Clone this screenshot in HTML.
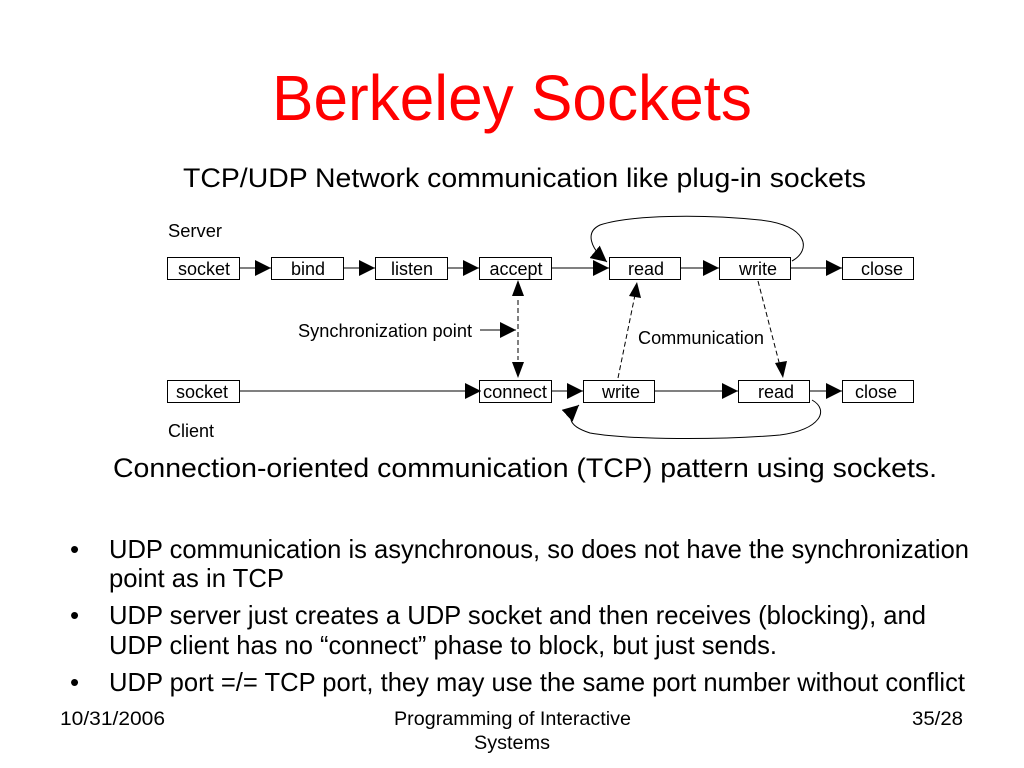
<!DOCTYPE html>
<html><head><meta charset="utf-8"><style>
html,body{margin:0;padding:0;background:#fff;}
svg{display:block;font-family:"Liberation Sans",Arial,Helvetica,sans-serif;}
</style></head><body>
<svg width="1024" height="768" viewBox="0 0 1024 768">
<defs>
<marker id="a" viewBox="0 0 10 10" refX="10" refY="5" markerWidth="16" markerHeight="16" markerUnits="userSpaceOnUse" orient="auto"><path d="M0,0 L10,5 L0,10 z" fill="#000"/></marker>
</defs>
<text x="272" y="120" font-size="64" fill="#ff0000" textLength="480" lengthAdjust="spacingAndGlyphs">Berkeley Sockets</text>
<text x="183" y="187" font-size="27" textLength="683" lengthAdjust="spacingAndGlyphs">TCP/UDP Network communication like plug-in sockets</text>

<g font-size="18">
<text x="168" y="237" textLength="54" lengthAdjust="spacingAndGlyphs">Server</text>
<text x="168" y="437" textLength="46" lengthAdjust="spacingAndGlyphs">Client</text>
<g fill="#fff" stroke="#000" stroke-width="1">
<rect x="167.5" y="257.5" width="72" height="22"/>
<rect x="271.5" y="257.5" width="72" height="22"/>
<rect x="375.5" y="257.5" width="72" height="22"/>
<rect x="479.5" y="257.5" width="72" height="22"/>
<rect x="609.5" y="257.5" width="71" height="22"/>
<rect x="719.5" y="257.5" width="71" height="22"/>
<rect x="842.5" y="257.5" width="71" height="22"/>
<rect x="167.5" y="380.5" width="72" height="22"/>
<rect x="479.5" y="380.5" width="72" height="22"/>
<rect x="583.5" y="380.5" width="71" height="22"/>
<rect x="738.5" y="380.5" width="71" height="22"/>
<rect x="842.5" y="380.5" width="71" height="22"/>
</g>
<g text-anchor="middle">
<text x="204" y="275">socket</text>
<text x="308" y="275">bind</text>
<text x="412" y="275">listen</text>
<text x="516" y="275">accept</text>
<text x="646" y="275">read</text>
<text x="758" y="275">write</text>
<text x="882" y="275">close</text>
<text x="202" y="398">socket</text>
<text x="515" y="398" textLength="64" lengthAdjust="spacingAndGlyphs">connect</text>
<text x="621" y="398">write</text>
<text x="776" y="398">read</text>
<text x="876" y="398">close</text>
</g>
<text x="298" y="337" textLength="174" lengthAdjust="spacingAndGlyphs">Synchronization point</text>
<text x="638" y="344" textLength="126" lengthAdjust="spacingAndGlyphs">Communication</text>
</g>

<g stroke="#000" stroke-width="1" fill="none">
<line x1="240" y1="268" x2="271" y2="268" marker-end="url(#a)"/>
<line x1="344" y1="268" x2="375" y2="268" marker-end="url(#a)"/>
<line x1="448" y1="268" x2="479" y2="268" marker-end="url(#a)"/>
<line x1="552" y1="268" x2="609" y2="268" marker-end="url(#a)"/>
<line x1="681" y1="268" x2="719" y2="268" marker-end="url(#a)"/>
<line x1="791" y1="268" x2="842" y2="268" marker-end="url(#a)"/>
<line x1="240" y1="391" x2="481" y2="391" marker-end="url(#a)"/>
<line x1="552" y1="391" x2="583" y2="391" marker-end="url(#a)"/>
<line x1="655" y1="391" x2="738" y2="391" marker-end="url(#a)"/>
<line x1="810" y1="391" x2="842" y2="391" marker-end="url(#a)"/>
<line x1="480" y1="330" x2="516" y2="330" marker-end="url(#a)"/>
<g stroke-dasharray="5,3">
<line x1="518" y1="300" x2="518" y2="360"/>
<line x1="618" y1="378" x2="636" y2="290"/>
<line x1="758" y1="281" x2="780" y2="366"/>
</g>
<path d="M792,261 C812,250 808,225 760,220 C700,214 630,215 600,225 C585,232 590,248 607,262" marker-end="url(#a)"/>
<path d="M812,400 C830,410 820,430 780,435 C720,440 630,440 590,433 C565,425 568,415 579,405" marker-end="url(#a)"/>
</g>
<g fill="#000">
<path d="M518,280 L512,296 L524,296 z"/>
<path d="M518,378 L512,362 L524,362 z"/>
<path d="M637,282 L629,296 L641,298 z"/>
<path d="M783,378 L775,363 L787,361 z"/>
</g>

<text x="113" y="477" font-size="27" textLength="824" lengthAdjust="spacingAndGlyphs">Connection-oriented communication (TCP) pattern using sockets.</text>

<g font-size="26">
<text x="70" y="558">•</text>
<text x="109" y="558" textLength="860" lengthAdjust="spacingAndGlyphs">UDP communication is asynchronous, so does not have the synchronization</text>
<text x="109" y="587" textLength="175" lengthAdjust="spacingAndGlyphs">point as in TCP</text>
<text x="70" y="624">•</text>
<text x="109" y="624" textLength="817" lengthAdjust="spacingAndGlyphs">UDP server just creates a UDP socket and then receives (blocking), and</text>
<text x="109" y="654" textLength="668" lengthAdjust="spacingAndGlyphs">UDP client has no “connect” phase to block, but just sends.</text>
<text x="70" y="691">•</text>
<text x="109" y="691" textLength="856" lengthAdjust="spacingAndGlyphs">UDP port =/= TCP port, they may use the same port number without conflict</text>
</g>
<g font-size="19">
<text x="60" y="725" textLength="105" lengthAdjust="spacingAndGlyphs">10/31/2006</text>
<text x="394" y="725" textLength="237" lengthAdjust="spacingAndGlyphs">Programming of Interactive</text>
<text x="474" y="749" textLength="76" lengthAdjust="spacingAndGlyphs">Systems</text>
<text x="912" y="725" textLength="51" lengthAdjust="spacingAndGlyphs">35/28</text>
</g>
</svg>
</body></html>
